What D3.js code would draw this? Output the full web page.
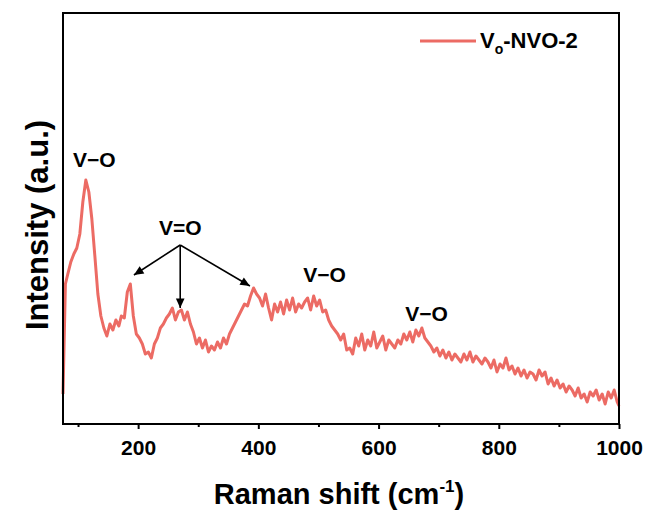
<!DOCTYPE html>
<html><head><meta charset="utf-8">
<script src="https://cdn.jsdelivr.net/npm/d3@7"></script>
<style>
body{margin:0;background:#fff;}
svg{display:block;font-family:"Liberation Sans",Arial,sans-serif;font-weight:bold;}
</style></head>
<body>
<script>
// Raman shift (cm^-1)
const ramanShift = [75,79,83,88,93,98,103,108,113,118,123,128,133,138,143,148,153,158,163,168,172,177,182,187,192,197,
202,207,212,217,222,227,232,237,242,247,252,257,262,267,272,277,282,287,292,297,302,307,312,317,322,327,332,337,342,347,
352,357,362,367,372,377,382,387,392,397,402,407,412,417,422,427,432,437,442,447,452,457,462,467,472,477,482,487,492,497,
502,507,512,517,522,527,532,537,542,547,552,557,562,567,572,577,582,587,592,597,602,607,612,617,622,627,632,637,642,647,
652,657,662,667,672,677,682,687,692,697,702,707,712,717,722,727,732,737,742,747,752,757,762,767,772,777,782,787,792,797,
802,807,812,817,822,827,832,837,842,847,852,857,862,867,872,877,882,887,892,897,902,907,912,917,922,927,932,937,942,947,
952,957,962,967,972,977,982,987,992,997,1000];
// Intensity (a.u.)
const intensity = [30,140,150,162,170,176,190,222,244,232,205,168,130,108,96,88,100,94,104,98,108,106,132,140,108,90,
86,80,70,72,66,80,86,96,100,106,110,116,104,112,114,104,112,100,92,80,86,76,84,72,78,74,82,76,86,80,
90,96,102,108,114,120,118,128,136,130,126,118,130,116,104,120,112,122,110,124,114,126,112,120,116,122,126,114,128,118,
124,112,114,104,98,94,90,84,90,74,76,70,86,78,90,74,84,78,92,76,82,88,74,84,80,76,84,80,90,84,
92,82,94,88,96,86,82,78,72,76,68,74,66,72,64,70,66,62,70,64,72,62,68,64,60,66,62,56,64,52,
60,56,66,54,58,50,56,48,54,46,52,50,44,54,48,52,40,46,38,44,36,40,32,38,34,28,36,26,30,22,
32,28,34,24,30,20,32,26,34,22,18];
const xTicks = [200,400,600,800,1000];
const xMinorTicks = [100,300,500,700,900];
const seriesName = "NVO-2";
// band labels: [label, raman shift, intensity]
const bandLabels = [
  ["V\u2212O", 127, 257],
  ["V\u2212O", 510, 142],
  ["V\u2212O", 680, 103]
];
const vDoubleO = {label:"V=O", s:270, v:189, from:179};
const arrowTargets = [[193,149],[270,116],[386,138]];

const W=647,H=512;
const m={l:63,t:13,r:28,b:88};
const svg=d3.select("body").append("svg").attr("width",W).attr("height",H);
const x=d3.scaleLinear().domain([75,1000]).range([m.l,W-m.r]);
const y=d3.scaleLinear().domain([0,411]).range([H-m.b,m.t]);
const data=ramanShift.map((s,i)=>({s,v:intensity[i]}));
const red="#ec6b64";

// line
svg.append("path").datum(data)
  .attr("fill","none").attr("stroke",red).attr("stroke-width",3)
  .attr("stroke-linejoin","round")
  .attr("d",d3.line().x(d=>x(d.s)).y(d=>y(d.v)));

// frame
svg.append("rect").attr("x",m.l).attr("y",m.t)
  .attr("width",W-m.r-m.l).attr("height",H-m.b-m.t)
  .attr("fill","none").attr("stroke","#000").attr("stroke-width",2);

// x axis
const gx=svg.append("g").attr("transform",`translate(0,${H-m.b})`);
gx.call(d3.axisBottom(x).tickValues(xTicks).tickSize(5).tickPadding(11).tickFormat(d3.format("d")));
gx.append("g").call(d3.axisBottom(x).tickValues(xMinorTicks).tickSize(3).tickFormat(""));
gx.selectAll(".domain").remove();
gx.selectAll("line").attr("stroke","#000").attr("stroke-width",2);
gx.selectAll("text").attr("font-size",21).attr("font-weight","bold").attr("fill","#000")
  .attr("font-family","Liberation Sans, Arial, sans-serif");

// axis titles
const xt=svg.append("text").attr("x",339).attr("y",504).attr("text-anchor","middle")
  .attr("font-size",29).attr("fill","#000");
xt.append("tspan").text("Raman shift (cm");
xt.append("tspan").text("-1").attr("font-size",17).attr("dy",-12);
xt.append("tspan").text(")").attr("dy",12);

svg.append("text").attr("transform","translate(48,225) rotate(-90)")
  .attr("text-anchor","middle").attr("font-size",31).attr("fill","#000")
  .text("Intensity (a.u.)");

// legend
svg.append("line").attr("x1",420).attr("x2",476).attr("y1",41).attr("y2",41)
  .attr("stroke",red).attr("stroke-width",3);
const lt=svg.append("text").attr("x",480).attr("y",48).attr("font-size",22).attr("fill","#000");
lt.append("tspan").text("V");
lt.append("tspan").text("o").attr("font-size",14).attr("dy",6);
lt.append("tspan").text("-"+seriesName).attr("dy",-6);

// band labels
bandLabels.forEach(([t,s,v])=>{
  svg.append("text").attr("x",x(s)).attr("y",y(v))
    .attr("font-size",21).attr("fill","#000").attr("text-anchor","middle").text(t);
});

// V=O with arrows
svg.append("text").attr("x",x(vDoubleO.s)).attr("y",y(vDoubleO.v)).attr("text-anchor","middle")
  .attr("font-size",21).attr("fill","#000").text(vDoubleO.label);
const defs=svg.append("defs");
defs.append("marker").attr("id","ah").attr("viewBox","0 0 10 10").attr("refX",10).attr("refY",5)
  .attr("markerWidth",7).attr("markerHeight",6).attr("orient","auto")
  .append("path").attr("d","M0,0.5 L10,5 L0,9.5 Z").attr("fill","#000");
arrowTargets.forEach(([s,v])=>{
  svg.append("line").attr("x1",x(vDoubleO.s)).attr("y1",y(vDoubleO.from))
    .attr("x2",x(s)).attr("y2",y(v))
    .attr("stroke","#000").attr("stroke-width",1.6).attr("marker-end","url(#ah)");
});
</script>
</body></html>
